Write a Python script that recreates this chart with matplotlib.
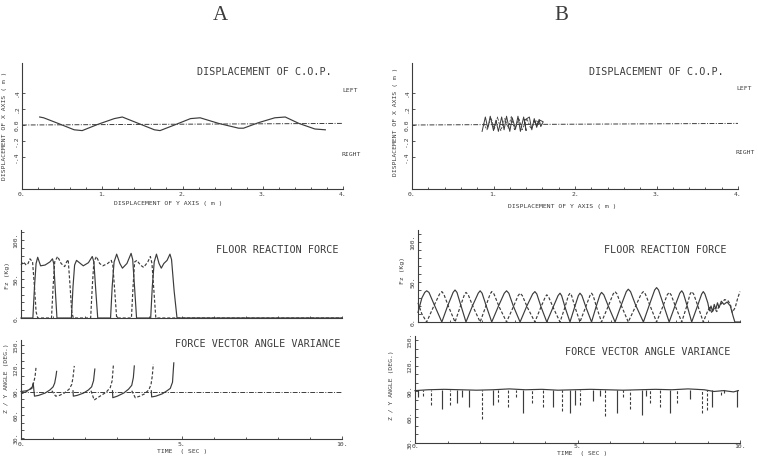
import numpy as np
import matplotlib.pyplot as plt
from matplotlib.ticker import MultipleLocator

nan = np.nan
W, H = 758, 457
INK = '#3c3c3c'
MONO = 'DejaVu Sans Mono'
SERIF = 'Liberation Serif'
DASH = (0, (2.6, 1.6))
DOTDASH = (0, (5, 1.5, 1, 1.5))

plt.rcParams['font.family'] = MONO

# ---------------- displacement of C.O.P. (m) ----------------
cop_base_y = [0.0, 4.0]
cop_base_x = [0.0, 0.02]

a_cop_y = [0.22, 0.27, 0.45, 0.65, 0.75, 0.95, 1.15, 1.25, 1.45, 1.65, 1.72, 1.90,
           2.10, 2.22, 2.45, 2.70, 2.76, 2.95, 3.15, 3.28, 3.45, 3.65, 3.78]
a_cop_x = [0.10, 0.09, 0.02, -0.06, -0.07, 0.01, 0.08, 0.10, 0.02, -0.06, -0.07, 0.00,
           0.08, 0.09, 0.02, -0.04, -0.04, 0.03, 0.09, 0.10, 0.02, -0.05, -0.06]

b_cop_y = [0.86, 0.90, 0.93, 0.96, 1.00, 1.03, 1.06, 1.10, 1.13, 1.16, 1.20, 1.23, 1.27, 1.30,
           1.33, 1.37, 1.40, 1.38, 1.44, 1.47, 1.50, 1.53, 1.56, 1.58, 1.61, 1.57, 1.53, 1.50]
b_cop_x = [-0.08, 0.10, -0.04, 0.11, -0.07, 0.06, -0.08, 0.10, -0.06, 0.11, -0.08, 0.09, -0.05, 0.11,
           -0.08, 0.10, -0.07, 0.06, 0.10, -0.06, 0.08, -0.03, 0.07, -0.02, 0.04, 0.06, 0.00, 0.05]
b_cop_y2 = [0.88, 0.92, 0.97, 1.01, 1.05, 1.09, 1.14, 1.18, 1.22, 1.26, 1.31, 1.35, 1.41, 1.46, 1.52, 1.57]
b_cop_x2 = [0.02, -0.06, 0.09, -0.05, 0.10, -0.07, 0.08, -0.04, 0.11, -0.07, 0.09, -0.06, 0.08, -0.05, 0.06, 0.01]

# ---------------- floor reaction force Fz (kg) ----------------
a_fz_r_t = [0, 0.37, 0.42, 0.47, 0.52, 0.61, 0.75, 0.90, 0.98, 1.02, 1.07, 1.12,
            1.57, 1.62, 1.67, 1.73, 1.85, 1.94, 2.10, 2.22, 2.27, 2.33, 2.39,
            2.79, 2.84, 2.90, 2.98, 3.08, 3.16, 3.30, 3.43, 3.48, 3.54, 3.60,
            4.04, 4.09, 4.15, 4.22, 4.30, 4.37, 4.45, 4.55, 4.64, 4.69, 4.77, 4.86, 10]
a_fz_r = [0, 0, 40, 70, 78, 67, 68, 72, 76, 70, 35, 0,
          0, 40, 68, 74, 70, 67, 71, 79, 72, 35, 0,
          0, 40, 72, 82, 70, 64, 70, 83, 75, 38, 0,
          0, 40, 72, 82, 70, 64, 70, 74, 82, 75, 35, 0, 0]
a_fz_l_t = [0, 0.08, 0.16, 0.22, 0.28, 0.36, 0.42, 0.47, 0.52,
            0.95, 1.00, 1.05, 1.14, 1.25, 1.36, 1.42, 1.47, 1.53, 1.58, 1.63,
            2.17, 2.22, 2.27, 2.35, 2.45, 2.55, 2.70, 2.81, 2.86, 2.92, 2.98,
            3.44, 3.49, 3.54, 3.61, 3.72, 3.82, 3.95, 4.03, 4.08, 4.14, 4.20, 10]
a_fz_l = [68, 72, 68, 70, 76, 72, 40, 8, 0,
          0, 40, 72, 79, 70, 66, 72, 75, 40, 8, 0,
          0, 40, 72, 79, 70, 67, 70, 74, 68, 35, 0,
          0, 40, 72, 74, 68, 65, 72, 79, 70, 35, 0, 0]

b_fz_r_t = [0.00, 0.12, 0.21, 0.27, 0.34, 0.50, 0.74,
            0.92, 1.09, 1.15, 1.21, 1.33, 1.49,
            1.69, 1.87, 1.93, 1.99, 2.12, 2.29,
            2.50, 2.68, 2.75, 2.82, 2.96, 3.17,
            3.38, 3.56, 3.63, 3.69, 3.82, 4.00,
            4.19, 4.35, 4.41, 4.46, 4.57, 4.72,
            4.86, 4.98, 5.03, 5.09, 5.22, 5.39,
            5.53, 5.65, 5.70, 5.77, 5.92, 6.12,
            6.31, 6.47, 6.53, 6.60, 6.76, 7.00,
            7.19, 7.35, 7.41, 7.47, 7.62, 7.80,
            7.98, 8.13, 8.19, 8.24, 8.36, 8.50,
            8.67, 8.81, 8.86, 8.91, 9.00, 9.05, 9.10, 9.15, 9.20, 9.25, 9.30, 9.35,
            9.42, 9.50, 9.60, 9.70, 9.78, 9.84, 10.0]
b_fz_r = [12, 30, 37, 39, 37, 22, 0,
          20, 37, 40, 37, 21, 0,
          20, 36, 39, 36, 20, 0,
          20, 36, 39, 36, 20, 0,
          20, 35, 38, 35, 19, 0,
          18, 33, 36, 33, 18, 0,
          18, 33, 36, 33, 18, 0,
          19, 34, 37, 34, 19, 0,
          21, 38, 41, 38, 21, 0,
          22, 40, 43, 40, 22, 0,
          20, 36, 39, 36, 20, 0,
          19, 35, 38, 35, 24, 14, 20, 13, 22, 16, 24, 18,
          26, 22, 25, 20, 8, 0, 0]
b_fz_l_t = [0.00, 0.12, 0.27,
            0.48, 0.67, 0.74, 0.80, 0.95, 1.15,
            1.31, 1.44, 1.49, 1.56, 1.71, 1.93,
            2.10, 2.24, 2.29, 2.36, 2.52, 2.75,
            2.95, 3.11, 3.17, 3.24, 3.40, 3.63,
            3.80, 3.95, 4.00, 4.06, 4.21, 4.41,
            4.56, 4.67, 4.72, 4.77, 4.88, 5.03,
            5.20, 5.34, 5.39, 5.44, 5.55, 5.70,
            5.90, 6.06, 6.12, 6.18, 6.33, 6.53,
            6.75, 6.93, 7.00, 7.06, 7.22, 7.41,
            7.60, 7.74, 7.80, 7.86, 8.00, 8.19,
            8.34, 8.45, 8.50, 8.56, 8.70, 8.86,
            9.00, 9.05, 9.12, 9.20, 9.28, 9.35, 9.45, 9.52, 9.62, 9.70, 9.76, 9.85, 9.93, 10.0]
b_fz_l = [24, 10, 0,
          19, 35, 38, 35, 19, 0,
          19, 34, 37, 34, 19, 0,
          19, 35, 38, 35, 19, 0,
          18, 33, 36, 33, 18, 0,
          17, 31, 34, 31, 17, 0,
          18, 33, 36, 33, 18, 0,
          18, 33, 36, 33, 18, 0,
          19, 35, 38, 35, 19, 0,
          19, 35, 38, 35, 19, 0,
          19, 34, 37, 34, 19, 0,
          19, 35, 38, 35, 19, 0,
          14, 18, 12, 17, 13, 20, 24, 28, 27, 22, 12, 18, 30, 38]

# ---------------- force vector angle Z/Y (deg) ----------------
ang_base_t = [0, 10]
ang_base = [90, 90]

a_ang_r_t = [0.00, 0.18, 0.34, 0.38, 0.42, 0.55, 0.75, 0.90, 1.00, 1.05, 1.09, 1.11, nan,
             1.62, 1.63, 1.75, 1.95, 2.10, 2.20, 2.26, 2.30, nan,
             2.85, 2.86, 3.00, 3.20, 3.35, 3.45, 3.50, 3.53, nan,
             4.06, 4.07, 4.20, 4.40, 4.55, 4.65, 4.72, 4.76]
a_ang_r = [90, 91, 94, 101, 84, 85, 88, 92, 96, 101, 110, 116, nan,
           91, 84, 85, 88, 92, 96, 104, 119, nan,
           91, 82, 84, 88, 93, 98, 108, 123, nan,
           91, 83, 84, 87, 91, 94, 102, 127]
a_ang_l_t = [0.00, 0.12, 0.25, 0.35, 0.40, 0.44, 0.47, nan,
             0.96, 1.08, 1.20, 1.35, 1.50, 1.58, 1.62, 1.66, nan,
             2.18, 2.28, 2.35, 2.50, 2.65, 2.78, 2.84, 2.88, nan,
             3.45, 3.56, 3.70, 3.85, 3.98, 4.05, 4.09, 4.12]
a_ang_l = [87, 89, 92, 96, 102, 110, 122, nan,
           91, 84, 85, 88, 93, 99, 108, 123, nan,
           91, 79, 81, 85, 89, 95, 104, 125, nan,
           91, 82, 84, 87, 92, 99, 110, 125]

b_ang_base_t = [0.0, 0.4, 0.9, 1.4, 1.9, 2.4, 2.9, 3.4, 3.9, 4.4, 4.9, 5.4, 5.9,
                6.4, 6.9, 7.4, 7.9, 8.4, 8.9, 9.2, 9.5, 9.8, 9.95]
b_ang_base = [91, 92, 92.5, 92, 91.5, 92, 93, 92, 92.5, 91.5, 92, 92.5, 92,
              91.5, 92, 92.5, 92, 93, 92, 90, 91, 89.5, 91]
b_spike_r_t = [0.10, 0.82, 1.28, 1.45, 1.67, 2.41, 3.33, 4.26, 4.77, 4.92, 5.49, 5.70,
               6.21, 6.97, 7.10, 7.85, 8.46, 9.13, 9.50, 9.90]
b_spike_r = [83, 70, 76, 84, 72, 74, 65, 72, 65, 74, 79, 85,
             65, 63, 85, 65, 81, 72, 88, 72]
b_spike_l_t = [0.25, 0.48, 1.08, 2.05, 2.56, 2.87, 3.10, 3.59, 3.95, 4.51, 5.08, 5.85,
               6.40, 6.62, 7.23, 7.54, 8.05, 8.82, 8.98, 9.40]
b_spike_l = [85, 74, 74, 58, 78, 72, 84, 76, 72, 67, 74, 61,
             84, 70, 76, 72, 76, 65, 68, 86]

fig = plt.figure(figsize=(W / 100, H / 100), dpi=100)


def txt(x, y, s, size=4.6, rot=0, **kw):
    fig.text(x / W, 1 - y / H, s, size=size, rotation=rot, ha='center', va='center',
             color=INK, **kw)


def panel(l, t, r, b, xlim, ylim):
    ax = fig.add_axes([l / W, 1 - b / H, (r - l) / W, (b - t) / H])
    ax.set_xlim(*xlim)
    ax.set_ylim(*ylim)
    ax.patch.set_alpha(0)
    for s in ('top', 'right'):
        ax.spines[s].set_visible(False)
    for s in ('left', 'bottom'):
        ax.spines[s].set_color(INK)
        ax.spines[s].set_linewidth(0.8)
    ax.tick_params(which='both', direction='in', colors=INK, width=0.6, labelsize=4.6, pad=2)
    ax.tick_params(which='major', length=2.5)
    ax.tick_params(which='minor', length=1.8)
    return ax


def yticks(ax, vals, labs):
    ax.set_yticks(vals)
    ax.set_yticklabels(labs, rotation=90, va='center')


line = dict(color=INK, lw=0.85, clip_on=False)

# ---- C.O.P. panels
for (l, r, which) in [(22, 343, 'A'), (412, 738, 'B')]:
    ax = panel(l, 63, r, 189, (0, 4), (-0.8, 0.775))
    ax.set_xticks([0, 1, 2, 3, 4], ['0.', '1.', '2.', '3.', '4.'])
    ax.xaxis.set_minor_locator(MultipleLocator(0.2))
    yticks(ax, [-0.4, -0.2, 0, 0.2, 0.4], ['-.4', '-.2', '0.0', '.2', '.4'])
    ax.plot(cop_base_y, cop_base_x, ls=DOTDASH, color=INK, lw=0.7)
    if which == 'A':
        ax.plot(a_cop_y, a_cop_x, **line)
    else:
        ax.plot(b_cop_y, b_cop_x, color=INK, lw=0.7)
        ax.plot(b_cop_y2, b_cop_x2, color=INK, lw=0.6, ls=DASH)

# ---- floor reaction force
ax = panel(21, 230, 342, 318, (0, 10), (0, 113))
ax.set_xticks([])
ax.xaxis.set_minor_locator(MultipleLocator(1))
yticks(ax, [0, 50, 100], ['0.', '50.', '100.'])
ax.yaxis.set_minor_locator(MultipleLocator(10))
ax.plot(a_fz_l_t, a_fz_l, ls=DASH, **line)
ax.plot(a_fz_r_t, a_fz_r, **line)

ax = panel(418, 230, 740, 322, (0, 10), (0, 115))
ax.set_xticks([])
ax.xaxis.set_minor_locator(MultipleLocator(1))
yticks(ax, [0, 50, 100], ['0.', '50.', '100.'])
ax.yaxis.set_minor_locator(MultipleLocator(10))
ax.plot(b_fz_l_t, b_fz_l, ls=DASH, **line)
ax.plot(b_fz_r_t, b_fz_r, **line)

# ---- force vector angle
ax = panel(21, 340, 342, 439, (0, 10), (28.7, 156.5))
ax.set_xticks([0, 5, 10], ['0.', '5.', '10.'])
ax.xaxis.set_minor_locator(MultipleLocator(1))
yticks(ax, [30, 60, 90, 120, 150], ['30.', '60.', '90.', '120.', '150.'])
ax.yaxis.set_minor_locator(MultipleLocator(10))
ax.plot(ang_base_t, ang_base, ls=DOTDASH, color=INK, lw=0.7)
ax.plot(a_ang_l_t, a_ang_l, ls=DASH, **line)
ax.plot(a_ang_r_t, a_ang_r, **line)

ax = panel(415, 336, 740, 443, (0, 10), (30, 154.6))
ax.set_xticks([0, 5, 10], ['0.', '5.', '10.'])
ax.tick_params(axis='x', pad=1)
ax.xaxis.set_minor_locator(MultipleLocator(1))
yticks(ax, [30, 60, 90, 120, 150], ['30.', '60.', '90.', '120.', '150.'])
ax.yaxis.set_minor_locator(MultipleLocator(10))
ax.plot(b_ang_base_t, b_ang_base, **line)
ax.vlines(b_spike_l_t, b_spike_l, 92, colors=INK, lw=0.8, linestyles=DASH)
ax.vlines(b_spike_r_t, b_spike_r, 92, colors=INK, lw=0.85)

# ---- texts
txt(220, 15, 'A', size=15, family=SERIF)
txt(561, 15, 'B', size=15, family=SERIF)

txt(264, 72, 'DISPLACEMENT OF C.O.P.', size=7.3)
txt(350, 90, 'LEFT')
txt(351, 155, 'RIGHT')
txt(168, 204, 'DISPLACEMENT OF Y AXIS ( m )')
txt(5, 126, 'DISPLACEMENT OF X AXIS ( m )', rot=90)

txt(656, 72, 'DISPLACEMENT OF C.O.P.', size=7.3)
txt(744, 89, 'LEFT')
txt(745, 153, 'RIGHT')
txt(562, 206, 'DISPLACEMENT OF Y AXIS ( m )')
txt(395, 122, 'DISPLACEMENT OF X AXIS ( m )', rot=90)

txt(277, 250, 'FLOOR REACTION FORCE', size=7.3)
txt(7, 275, 'Fz (Kg)', rot=90)
txt(665, 250, 'FLOOR REACTION FORCE', size=7.3)
txt(402, 270, 'Fz (Kg)', rot=90)

txt(258, 344, 'FORCE VECTOR ANGLE VARIANCE', size=7.3)
txt(7, 378, 'Z / Y ANGLE (DEG.)', rot=90)
txt(182, 451, 'TIME  ( SEC )')
txt(648, 352, 'FORCE VECTOR ANGLE VARIANCE', size=7.3)
txt(392, 385, 'Z / Y ANGLE (DEG.)', rot=90)
txt(582, 453, 'TIME  ( SEC )')

fig.savefig('out.png', dpi=100)
